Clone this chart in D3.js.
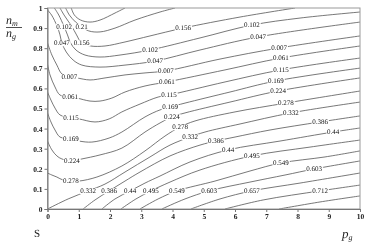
<!DOCTYPE html>
<html><head><meta charset="utf-8">
<script src="https://cdn.jsdelivr.net/npm/d3@7"></script>
<style>body{margin:0;background:#fff;} svg{display:block;will-change:transform} text{text-rendering:geometricPrecision}</style>
</head><body>
<svg id="c" width="374" height="247"></svg>
<script>
// ---- data (p_g, n_m/n_g) ----
const xTicks = [0,1,2,3,4,5,6,7,8,9,10];
const yTicks = [0,0.1,0.2,0.3,0.4,0.5,0.6,0.7,0.8,0.9,1];
const yTickLabels = ["0","0.1","0.2","0.3","0.4","0.5","0.6","0.7","0.8","0.9","1"];

const levels = ["0.264","0.21","0.156","0.102","0.047","0.007","0.061","0.115","0.169","0.224",
                "0.278","0.332","0.386","0.44","0.495","0.549","0.603","0.657","0.712","0.766"];

const c264 = [[.76,1],[.86,.965],[1.06,.94],[1.36,.93],[1.68,.94],[2.16,.975],[2.48,1]];
const c210 = [[.58,1],[.70,.965],[.90,.93],[1.09,.908],[1.32,.886],[1.68,.881],[2.16,.9],[2.8,.94],[3.6,.98],[4.08,1]];
const c156 = [[.40,1],[.53,.965],[.66,.935],[.78,.908],[.93,.866],[1.09,.826],[1.38,.811],[1.84,.811],[2.48,.831],[3.28,.861],[4.34,.9],[6.16,.955],[7.92,1]];
const c102 = [[.22,1],[.36,.965],[.53,.908],[.64,.866],[.74,.826],[.91,.791],[1.20,.766],[1.68,.756],[2.32,.766],[3.28,.791],[4.88,.851],[6.54,.915],[8.08,.95],[10,.98]];
const c047 = [[0,.99],[.13,.965],[.31,.908],[.40,.866],[.46,.826],[.60,.781],[.82,.741],[1.10,.716],[1.68,.706],[2.48,.716],[3.44,.736],[4.88,.791],[6.74,.856],[10,.93]];
const c007 = [[0,.826],[.14,.766],[.30,.716],[.46,.672],[.70,.657],[.94,.652],[1.36,.642],[1.84,.652],[2.48,.667],[3.12,.677],[3.79,.687],[5.52,.746],[7.41,.801],[10,.861]];
const c061 = [[0,.721],[.08,.667],[.24,.607],[.40,.567],[.72,.557],[.94,.552],[1.36,.537],[1.68,.537],[2.06,.552],[2.48,.582],[3.12,.612],[3.82,.632],[5.68,.692],[7.47,.751],[10,.811]];
const c115 = [[0,.582],[.11,.542],[.24,.502],[.40,.468],[.75,.453],[1.01,.448],[1.52,.433],[1.97,.448],[2.38,.483],[2.96,.522],[3.54,.557],[3.89,.567],[5.68,.632],[7.47,.692],[10,.751]];
const c169 = [[0,.478],[.11,.433],[.24,.393],[.40,.358],[.75,.348],[1.01,.338],[1.42,.333],[1.97,.353],[2.38,.383],[3.12,.458],[3.60,.493],[3.92,.507],[4.40,.527],[5.84,.582],[7.31,.637],[10,.701]];
const c224 = [[0,.338],[.14,.294],[.30,.264],[.46,.249],[.78,.239],[1.10,.249],[1.68,.269],[2.38,.303],[3.12,.383],[3.60,.428],[3.98,.458],[4.40,.478],[5.84,.532],[7.38,.587],[10,.652]];
const c278 = [[0,.179],[.14,.169],[.30,.159],[.50,.144],[.75,.139],[1.01,.139],[1.58,.159],[2.38,.214],[3.12,.289],[3.76,.363],[4.24,.408],[4.72,.438],[6.0,.483],[7.63,.527],[10,.587]];
const c332 = [[0,0],[.66,.050],[1.30,.090],[1.84,.124],[2.48,.184],[3.28,.259],[3.92,.318],[4.56,.358],[5.04,.383],[6.16,.423],[7.79,.478],[10,.532]];
const c386 = [[1.14,0],[1.52,.045],[1.97,.090],[2.48,.139],[2.96,.184],[3.92,.264],[4.88,.318],[5.39,.338],[6.00,.358],[7.12,.393],[8.72,.433],[10,.463]];
const c440 = [[1.74,0],[2.16,.050],[2.64,.090],[3.12,.129],[3.60,.164],[4.56,.234],[5.78,.294],[7.44,.338],[9.14,.383],[10,.403]];
const c495 = [[2.35,0],[2.83,.050],[3.31,.090],[3.92,.134],[4.88,.194],[6.54,.264],[8.40,.308],[10,.343]];
const c549 = [[2.96,0],[3.54,.050],[4.14,.090],[5.36,.139],[6.48,.189],[7.47,.229],[8.88,.259],[10,.289]];
const c603 = [[3.66,0],[4.40,.050],[5.17,.090],[6.48,.134],[7.60,.169],[8.53,.199],[10,.239]];
const c657 = [[4.59,0],[5.52,.050],[6.54,.090],[8.08,.129],[10,.179]];
const c712 = [[5.68,0],[6.90,.045],[8.72,.090],[10,.119]];
const c766 = [[7.41,0],[8.72,.035],[10,.065]];

const contourLines = [c264,c210,c156,c102,c047,c007,c061,c115,c169,c224,c278,c332,c386,c440,c495,c549,c603,c657,c712,c766];

// label text, p, n
const contourLabels = [
 ["0.102",.53,.908],["0.21",1.09,.908],["0.047",.46,.826],["0.156",1.09,.826],
 ["0.007",.70,.657],["0.061",.72,.557],["0.115",.75,.453],["0.169",.75,.348],
 ["0.224",.78,.239],["0.278",.75,.139],
 ["0.332",1.30,.090],["0.386",1.97,.090],["0.44",2.64,.090],["0.495",3.31,.090],
 ["0.549",4.14,.090],["0.603",5.17,.090],["0.657",6.54,.090],["0.712",8.72,.090],
 ["0.156",4.34,.900],["0.102",3.28,.791],["0.047",3.44,.736],["0.007",3.79,.687],
 ["0.061",3.82,.632],["0.115",3.89,.567],["0.169",3.92,.507],["0.224",3.98,.458],
 ["0.278",4.24,.408],["0.332",4.56,.358],["0.386",5.39,.338],["0.44",5.78,.294],
 ["0.102",6.54,.915],["0.047",6.74,.856],["0.007",7.41,.801],["0.061",7.47,.751],
 ["0.115",7.47,.692],["0.169",7.31,.637],["0.224",7.38,.587],["0.278",7.63,.527],
 ["0.332",7.79,.478],["0.386",8.72,.433],["0.44",9.14,.383],["0.495",6.54,.264],
 ["0.549",7.47,.229],["0.603",8.53,.199]
];

// ---- drawing ----
const x = d3.scaleLinear().domain([0,10]).range([47.5,360]);
const y = d3.scaleLinear().domain([0,1]).range([209,8]);
const svg = d3.select("#c");
const serif = "'Liberation Serif','Times New Roman',serif";

svg.append("clipPath").attr("id","clip").append("rect")
  .attr("x",x(0)).attr("y",y(1)).attr("width",x(10)-x(0)).attr("height",y(0)-y(1));

const g = svg.append("g").attr("clip-path","url(#clip)");
const line = d3.line().x(d=>x(d[0])).y(d=>y(d[1])).curve(d3.curveCatmullRom.alpha(0.5));
g.selectAll("path.c").data(contourLines).join("path").attr("class","c")
  .attr("d",line).attr("fill","none").attr("stroke","#555").attr("stroke-width",0.8);

const lg = svg.append("g");
contourLabels.forEach(([t,p,n])=>{
  const tx = lg.append("text").attr("x",x(p)).attr("y",y(n)).attr("dy","0.33em")
    .attr("text-anchor","middle").attr("font-family",serif).attr("font-size",7)
    .attr("fill","#111").text(t);
  const bb = tx.node().getBBox();
  lg.insert("rect","text").attr("x",bb.x-0.5).attr("y",bb.y+1).attr("width",bb.width+1)
    .attr("height",bb.height-2).attr("fill","#fff");
});

// frame
svg.append("rect").attr("x",x(0)).attr("y",y(1)).attr("width",x(10)-x(0)).attr("height",y(0)-y(1))
  .attr("fill","none").attr("stroke","#999").attr("stroke-width",1);

// axes
const xAxis = d3.axisBottom(x).tickValues(xTicks).tickSize(3).tickPadding(2).tickFormat(d3.format("d"));
const ax = svg.append("g").attr("transform",`translate(0,${y(0)})`).call(xAxis);
const yAxis = d3.axisLeft(y).tickValues(yTicks).tickSize(3).tickPadding(2).tickFormat((d,i)=>yTickLabels[i]);
const ay = svg.append("g").attr("transform",`translate(${x(0)},0)`).call(yAxis);
[ax,ay].forEach(a=>{
  a.select(".domain").attr("stroke","#777");
  a.selectAll(".tick line").attr("stroke","#777");
  a.selectAll("text").attr("font-family",serif).attr("font-size",7.5).attr("font-weight","bold").attr("fill","#222");
});

// axis titles
const num = svg.append("text").attr("x",6).attr("y",24).attr("font-family",serif).attr("font-style","italic").attr("font-size",12).attr("fill","#222");
num.append("tspan").text("n");
num.append("tspan").attr("font-size",8).attr("dy",2).text("m");
svg.append("line").attr("x1",6).attr("x2",22).attr("y1",27.5).attr("y2",27.5).attr("stroke","#222").attr("stroke-width",0.8);
const den = svg.append("text").attr("x",6).attr("y",37).attr("font-family",serif).attr("font-style","italic").attr("font-size",12).attr("fill","#222");
den.append("tspan").text("n");
den.append("tspan").attr("font-size",8).attr("dy",2).text("g");

svg.append("text").attr("x",34).attr("y",237).attr("font-family",serif).attr("font-size",11).attr("fill","#222").text("S");
const pg = svg.append("text").attr("x",342).attr("y",238).attr("font-family",serif).attr("font-style","italic").attr("font-size",13).attr("fill","#222");
pg.append("tspan").text("p");
pg.append("tspan").attr("font-size",8).attr("dy",2).text("g");
</script>
</body></html>
